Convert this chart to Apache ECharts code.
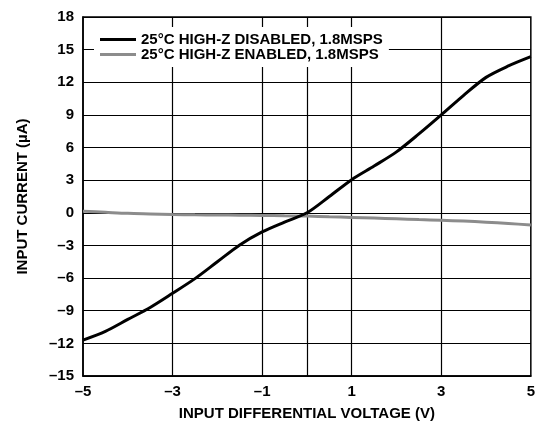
<!DOCTYPE html>
<html><head><meta charset="utf-8">
<script src="https://cdn.jsdelivr.net/npm/echarts@6/dist/echarts.min.js"></script>
<style>html,body{margin:0;padding:0;background:#fff}#c{width:538px;height:426px}</style>
</head><body><div id="c"></div>
<script>
const xValues = [-5,-4.5,-4,-3.5,-3,-2.5,-2,-1.5,-1,-0.5,0,0.5,1,1.5,2,2.5,3,3.5,4,4.5,5];
const disabledValues = [-11.7,-10.9,-9.8,-8.7,-7.4,-6.05,-4.5,-2.95,-1.75,-0.85,0,1.5,3.05,4.3,5.6,7.25,9.0,10.8,12.45,13.5,14.35];
const enabledValues = [0.15,0.05,-0.05,-0.1,-0.15,-0.18,-0.2,-0.22,-0.24,-0.27,-0.3,-0.36,-0.42,-0.48,-0.55,-0.62,-0.68,-0.76,-0.86,-0.98,-1.12];
const seriesNames = ['25°C HIGH-Z DISABLED, 1.8MSPS','25°C HIGH-Z ENABLED, 1.8MSPS'];
const xGridLines = [-3,-1,0,1,3];
const xLabelValues = [-5,-3,-1,1,3,5];
const xAxisName = 'INPUT DIFFERENTIAL VOLTAGE (V)';
const yAxisName = 'INPUT CURRENT (µA)';

const font = 'Liberation Sans, Arial, sans-serif';
const fmt = v => (v < 0 ? '\u2013' + Math.abs(v) : String(v));
const chart = echarts.init(document.getElementById('c'), null, {renderer:'canvas'});
chart.setOption({
  animation:false,
  backgroundColor:'#fff',
  grid:{left:83,right:6,top:17,bottom:49,show:true,borderColor:'#000',borderWidth:1.5,backgroundColor:'transparent'},
  legend:{
    left:94, top:27, orient:'vertical', itemGap:0, z:50,
    backgroundColor:'#fff', padding:[5,6,5,6],
    icon:'rect', itemWidth:36, itemHeight:3,
    textStyle:{fontFamily:font,fontWeight:'bold',fontSize:15,color:'#000',lineHeight:14},
    data:seriesNames
  },
  xAxis:{
    type:'value', min:-5, max:5, interval:1,
    axisLine:{show:true,onZero:false,lineStyle:{color:'#000',width:1.5}},
    axisTick:{show:false},
    splitLine:{show:false},
    axisLabel:{fontFamily:font,fontWeight:'bold',fontSize:15,color:'#000',margin:8,
      formatter:v => xLabelValues.includes(v) ? fmt(v) : ''},
    name:xAxisName, nameLocation:'middle', nameGap:30,
    nameTextStyle:{fontFamily:font,fontWeight:'bold',fontSize:15,color:'#000'}
  },
  yAxis:{
    type:'value', min:-15, max:18, interval:3,
    axisLine:{show:true,onZero:false,lineStyle:{color:'#000',width:1.5}},
    axisTick:{show:false},
    splitLine:{show:true,lineStyle:{color:'#000',width:1.2}},
    axisLabel:{fontFamily:font,fontWeight:'bold',fontSize:15,color:'#000',margin:9,formatter:fmt},
    name:yAxisName, nameLocation:'middle', nameGap:53, nameRotate:90,
    nameTextStyle:{fontFamily:font,fontWeight:'bold',fontSize:15,color:'#000'}
  },
  series:[
    {
      name:seriesNames[1], type:'line', showSymbol:false, smooth:0.3, z:2,
      data:xValues.map((x,i)=>[x,enabledValues[i]]),
      lineStyle:{color:'#8c8c8c',width:3}, itemStyle:{color:'#8c8c8c'},
      markLine:{silent:true,symbol:['none','none'],label:{show:false},animation:false,z:1,
        lineStyle:{color:'#000',width:1.2,type:'solid'},
        data:xGridLines.map(v=>({xAxis:v}))}
    },
    {
      name:seriesNames[0], type:'line', showSymbol:false, smooth:0.3, z:3,
      data:xValues.map((x,i)=>[x,disabledValues[i]]),
      lineStyle:{color:'#000',width:3}, itemStyle:{color:'#000'}
    }
  ]
});
</script></body></html>
